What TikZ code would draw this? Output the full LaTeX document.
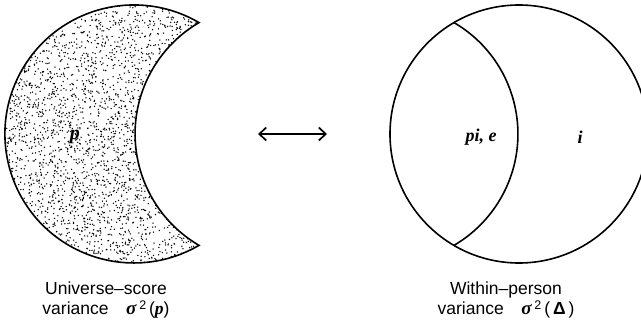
\documentclass[tikz,border=0pt]{standalone}
\usepackage{fontspec}
\setmainfont{Liberation Sans}
\newfontfamily\varfont{Liberation Serif}
\usetikzlibrary{arrows.meta}
\tikzset{outline/.style={line width=1.6pt},
  varlbl/.style={font=\fontsize{18}{20}\selectfont\varfont\bfseries\itshape},
  caption/.style={font=\fontsize{17.5}{20.5}\selectfont, align=center}}
\newcommand{\crescent}[1]{\path[#1] (199,299.4) arc[start angle=59.7, end angle=300.3, radius=129]
  arc[start angle=239.7, end angle=120.3, radius=129] -- cycle;}
\newcommand{\varsym}[1]{{\varfont\bfseries\itshape #1}}
\newcommand{\sqr}{\raisebox{0.55ex}{\fontsize{12.5}{13}\selectfont 2}}

\begin{document}
\begin{tikzpicture}[x=1pt, y=1pt]
\useasboundingbox (0,0) rectangle (641,322);
% universe-score part, stippled
\begin{scope}
\crescent{clip}
\pgfmathsetseed{11}
\foreach \k in {1,...,3300} {\fill ({5+194*rnd},{59+258*rnd}) circle (0.75pt);}
\end{scope}
\crescent{draw, outline}
\node[varlbl, font=\fontsize{20}{22}\selectfont\varfont\bfseries\itshape] (p) at (75,185) {p};
\node[caption] (lblP) at (106,22) {Universe--score\\variance\quad{\fontsize{19}{20}\selectfont\varsym{σ}}\,\sqr\,(\varsym{p})};
% arrow between the two
\coordinate (arrL) at (258,188);
\coordinate (arrR) at (327,188);
\draw[line width=1.7pt, {Straight Barb[length=7pt, width=13pt]}-{Straight Barb[length=7pt, width=13pt]}] (arrL) -- (arrR);
% within-person part
\draw[outline] (519,188) circle[radius=129];
\draw[outline] (454,299.4) arc[start angle=59.7, end angle=-59.7, radius=129];
\node[varlbl] (pie) at (481,185) {pi,\ e};
\node[varlbl] (i) at (580,185) {i};
\node[caption] (lblD) at (506,22) {Within--person\\variance\quad{\fontsize{19}{20}\selectfont\varsym{σ}}\,\sqr\,(\,\textbf{Δ}\,)};
\end{tikzpicture}
\end{document}
